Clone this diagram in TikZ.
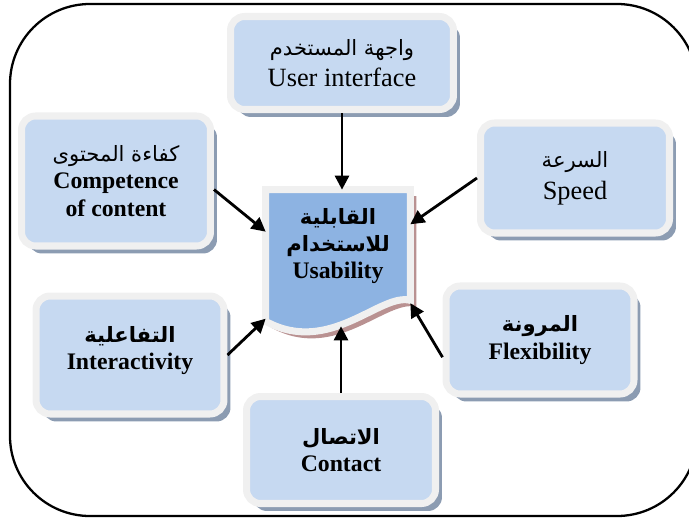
\documentclass[tikz,border=0pt]{standalone}
\usepackage{fontspec}
\setmainfont{Liberation Serif}
\newfontfamily\arabicfont[Script=Arabic]{DejaVu Sans}
\TeXXeTstate=1
\usetikzlibrary{arrows.meta,shadows,calc,backgrounds}

\definecolor{boxfill}{RGB}{198,217,241}
\definecolor{boxedge}{RGB}{240,240,240}
\definecolor{boxshadow}{RGB}{140,156,178}
\definecolor{docfill}{RGB}{141,179,226}
\definecolor{docshadow}{RGB}{185,145,145}

\newcommand{\arline}[1]{{\arabicfont\mdseries\fontsize{12}{15}\selectfont\beginR #1\endR}}
\newcommand{\arbold}[1]{{\arabicfont\bfseries\fontsize{12}{15}\selectfont\beginR #1\endR}}

\tikzset{
  factor/.style={draw=boxedge, line width=4pt, fill=boxfill, rounded corners=0.28cm,
    align=center, inner sep=2pt,
    drop shadow={shadow xshift=0.13cm, shadow yshift=-0.15cm, fill=boxshadow, opacity=1}},
  docshape/.style={draw=boxedge, line width=4pt, fill=docfill,
    drop shadow={shadow xshift=0.12cm, shadow yshift=-0.13cm, fill=docshadow, opacity=1}},
  arr/.style={-{Triangle[length=8pt,width=8pt]}, line width=1.6pt},
  reg/.style={font=\fontsize{15}{18}\selectfont},
  bld/.style={font=\fontsize{13.5}{15.5}\selectfont\bfseries},
}

\begin{document}
\begin{tikzpicture}[x=0.02cm, y=-0.02cm]

\useasboundingbox (0,0) rectangle (689,517);
\draw[line width=1.3pt, rounded corners=1.6cm] (10,4) rectangle (697,516);

\node[minimum width=2.88cm, minimum height=2.72cm, inner sep=0pt] (usab) at (338,258) {};
\node[bld, align=center] (usabtxt) at ($(usab.center)+(0,-12)$) {\arbold{القابلية}\\\arbold{للاستخدام}\\Usability};

\node[factor, reg, minimum width=4.46cm, minimum height=1.86cm] (ui) at (342,63) {\arline{واجهة المستخدم}\\User interface};
\node[factor, bld, minimum width=3.78cm, minimum height=2.6cm] (comp) at (116,181) {\arline{كفاءة المحتوى}\\Competence\\of content};
\node[factor, reg, minimum width=3.78cm, minimum height=2.2cm] (speed) at (575,178) {\arline{السرعة}\\Speed};
\node[factor, bld, minimum width=3.76cm, minimum height=2.16cm] (flex) at (540,340) {\arbold{المرونة}\\Flexibility};
\node[factor, bld, minimum width=3.76cm, minimum height=2.36cm, text depth=8pt] (inter) at (130,355) {\arbold{التفاعلية}\\Interactivity};
\node[factor, bld, minimum width=3.78cm, minimum height=2.14cm] (cont) at (341,450) {\arbold{الاتصال}\\Contact};

\begin{scope}[on background layer]
\path[docshape] (usab.north west) -- (usab.north east) -- ($(usab.south east)+(0,-26)$)
  .. controls +(-30,-8) and +(64,35) .. ($(usab.south west)+(0,-5)$) -- cycle;
\end{scope}

\draw[arr] (ui.south) -- (ui.south |- usab.north);
\draw[arr] (comp.-5) -- (usab.160);
\draw[arr] (speed.west) -- (usab.25);
\draw[arr] (inter.east) -- (usab.220);
\draw[arr] (flex.190) -- (usab.-32);
\draw[arr] (cont.north) -- (cont.north |- usab.south);

\end{tikzpicture}
\end{document}
